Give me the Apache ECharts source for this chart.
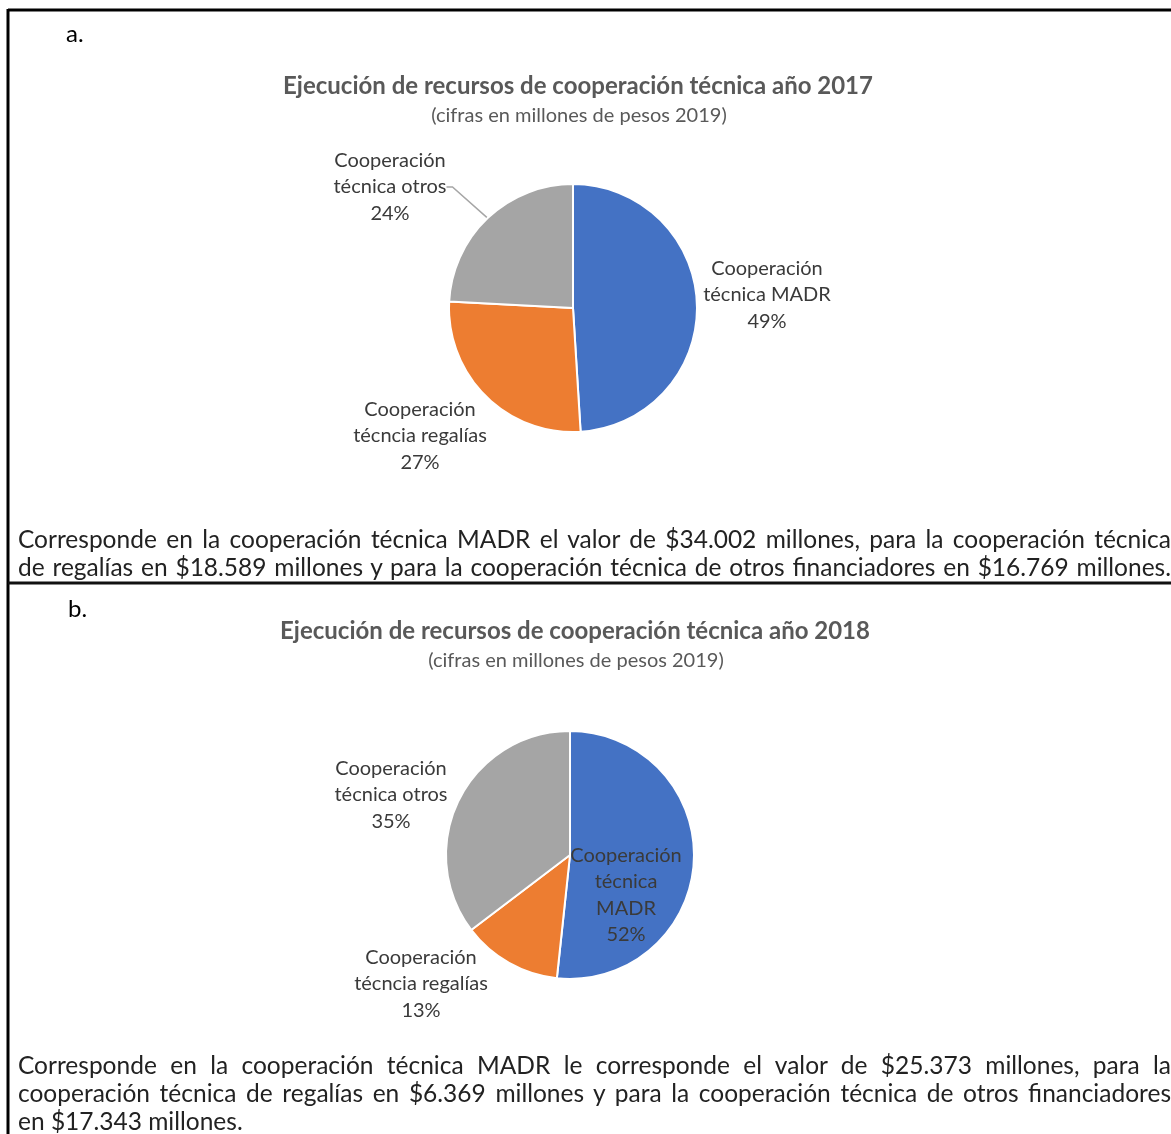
<!DOCTYPE html>
<html>
<head>
<meta charset="utf-8">
<script src="https://cdn.jsdelivr.net/npm/echarts@6/dist/echarts.min.js"></script>
<style>
  html, body { margin: 0; padding: 0; background: #fff; }
  #wrap { position: relative; width: 1171px; height: 1134px; overflow: hidden; }
  #myChart { position: absolute; left: 0; top: 0; width: 1171px; height: 1134px; }
  .para { position: absolute; left: 18px; width: 1153px; font-family: Lato, 'Open Sans', sans-serif; font-size: 24.5px; line-height: 28px; color: #222; }
  .para div { white-space: nowrap; text-align: justify; text-align-last: justify; }
  .para div.last { text-align-last: left; }
</style>
</head>
<body>
<div id="wrap">
  <div id="myChart"></div>
  <div class="para" style="top: 525px;">
    <div>Corresponde en la cooperación técnica MADR el valor de $34.002 millones, para la cooperación técnica</div>
    <div>de regalías en $18.589 millones y para la cooperación técnica de otros financiadores en $16.769 millones.</div>
  </div>
  <div class="para" style="top: 1051px;">
    <div>Corresponde en la cooperación técnica MADR le corresponde el valor de $25.373 millones, para la</div>
    <div>cooperación técnica de regalías en $6.369 millones y para la cooperación técnica de otros financiadores</div>
    <div class="last">en $17.343 millones.</div>
  </div>
</div>
<script>
// datos (millones de pesos 2019)
const categories = ['Cooperación técnica MADR', 'Cooperación técncia regalías', 'Cooperación técnica otros']
const values2017 = [34002, 18589, 16769]
const values2018 = [25373, 6369, 17343]
const labels2017 = ['Cooperación\ntécnica MADR', 'Cooperación\ntécncia regalías', 'Cooperación\ntécnica otros']
const labels2018 = ['Cooperación\ntécnica\nMADR', 'Cooperación\ntécncia regalías', 'Cooperación\ntécnica otros']
const titles = ['Ejecución de recursos de cooperación técnica año 2017', 'Ejecución de recursos de cooperación técnica año 2018']
const subTitle = '(cifras en millones de pesos 2019)'

const colors = ['#4472C4', '#ED7D31', '#A5A5A5']
const txtColor = '#3a3a3a'
const font = 'Lato, "Open Sans", sans-serif'

// posiciones de las etiquetas [x, y] por grafico
const labelPos = [
  [[767, 295], [420, 436], [390, 187]],
  [[626, 895], [421, 984], [391, 795]]
]

function buildData(values, showLine) {
  return values.map((v, i) => ({
    name: categories[i],
    value: v,
    labelLine: { show: showLine[i] }
  }))
}

function pieSeries(idx, values, labels, center, showLine) {
  return {
    type: 'pie',
    center: center,
    radius: 124,
    startAngle: 90,
    clockwise: true,
    animation: false,
    silent: true,
    color: colors,
    data: buildData(values, showLine),
    itemStyle: { borderColor: '#fff', borderWidth: 2 },
    label: {
      show: true,
      formatter: p => labels[p.dataIndex] + '\n' + Math.round(p.percent) + '%',
      color: txtColor,
      fontFamily: font,
      fontSize: 20,
      lineHeight: 26.5,
      align: 'center'
    },
    labelLine: { show: false, lineStyle: { color: '#a6a6a6', width: 1.5 }, length: 20, length2: 6 },
    labelLayout: params => {
      const p = labelPos[idx][params.dataIndex]
      return { x: p[0], y: p[1], align: 'center', verticalAlign: 'middle' }
    }
  }
}

const myChart = echarts.init(document.getElementById('myChart'), null, { renderer: 'canvas' })

const option = {
  backgroundColor: 'transparent',
  title: [
    { text: titles[0], left: 573, top: 69, textAlign: 'center',
      textStyle: { fontFamily: font, fontSize: 24, fontWeight: 'bold', color: '#595959' } },
    { text: subTitle, left: 574, top: 101, textAlign: 'center',
      textStyle: { fontFamily: font, fontSize: 20, fontWeight: 'normal', color: '#595959' } },
    { text: titles[1], left: 570, top: 614, textAlign: 'center',
      textStyle: { fontFamily: font, fontSize: 24, fontWeight: 'bold', color: '#595959' } },
    { text: subTitle, left: 571, top: 646, textAlign: 'center',
      textStyle: { fontFamily: font, fontSize: 20, fontWeight: 'normal', color: '#595959' } }
  ],
  graphic: [
    // marco del documento
    { type: 'line', shape: { x1: 8, y1: 10, x2: 1171, y2: 10 }, style: { stroke: '#000', lineWidth: 3 } },
    { type: 'line', shape: { x1: 8, y1: 9, x2: 8, y2: 1134 }, style: { stroke: '#000', lineWidth: 3 } },
    { type: 'line', shape: { x1: 8, y1: 583, x2: 1171, y2: 583 }, style: { stroke: '#111', lineWidth: 3 } },
    { type: 'text', left: 66, top: 22, style: { text: 'a.', fontFamily: font, fontSize: 24, fill: '#000' } },
    { type: 'text', left: 68, top: 597, style: { text: 'b.', fontFamily: font, fontSize: 24, fill: '#000' } }
  ],
  series: [
    pieSeries(0, values2017, labels2017, [573, 308], [false, false, true]),
    pieSeries(1, values2018, labels2018, [570, 855], [false, false, false])
  ]
}

myChart.setOption(option)
window.addEventListener('resize', () => {
  myChart.resize()
})
</script>
</body>
</html>
